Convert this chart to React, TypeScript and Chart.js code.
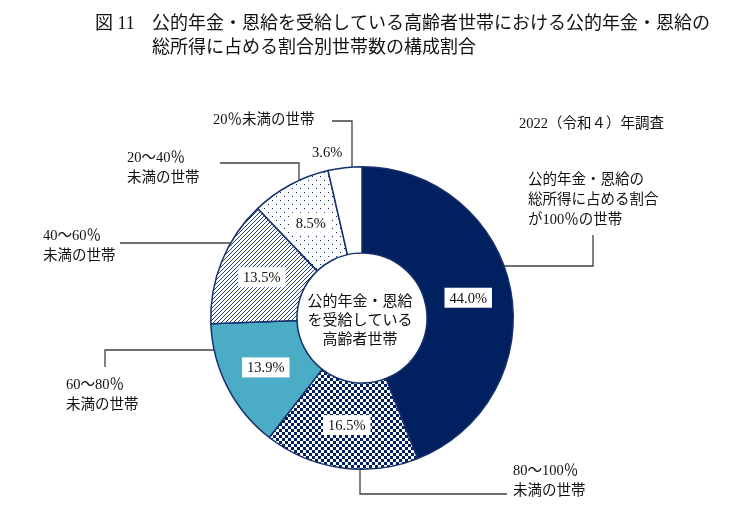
import React, { useRef, useEffect } from 'react';
import { Chart, registerables } from 'chart.js';

Chart.register(...registerables);

// 公的年金・恩給の総所得に占める割合別 世帯数の構成割合 (%), 2022
const categories = [
  '公的年金・恩給の総所得に占める割合が100％の世帯',
  '80～100％未満の世帯',
  '60～80％未満の世帯',
  '40～60％未満の世帯',
  '20～40％未満の世帯',
  '20％未満の世帯',
];
const shares = [44.0, 16.5, 13.9, 13.5, 8.5, 3.6];
const valueLabels = shares.map((v) => v.toFixed(1) + '%');

const titleLines = [
  '公的年金・恩給を受給している高齢者世帯における公的年金・恩給の',
  '総所得に占める割合別世帯数の構成割合',
];
const centerLines = ['公的年金・恩給', 'を受給している', '高齢者世帯'];
const surveyNote = '2022（令和４）年調査';

const NAVY = '#002060';
const EDGE = '#15306b';
const TEAL = '#4bacc6';
const FONT = '"Liberation Serif", "Noto Sans CJK JP", serif';

function makePattern(size: number, draw: (c: CanvasRenderingContext2D) => void) {
  const cv = document.createElement('canvas');
  cv.width = size;
  cv.height = size;
  const c = cv.getContext('2d')!;
  c.fillStyle = '#fff';
  c.fillRect(0, 0, size, size);
  c.fillStyle = NAVY;
  c.strokeStyle = NAVY;
  draw(c);
  return c.createPattern(cv, 'repeat')!;
}

// callout layout: text block, elbow points, and where the leader meets the ring
const callouts = [
  { text: ['20％未満の世帯'], x: 213, y: 120, pts: [[332, 121], [352, 121]], ring: { x: 352, dir: -1 } },
  { text: ['20～40％', '未満の世帯'], x: 127, y: 158, pts: [[220, 163], [299, 163]], ring: { x: 299, dir: -1 } },
  { text: ['40～60％', '未満の世帯'], x: 43, y: 236, pts: [[120, 243]], ring: { y: 243, dir: -1 } },
  { text: ['60～80％', '未満の世帯'], x: 66, y: 385, pts: [[105, 367], [105, 350]], ring: { y: 350, dir: -1 } },
  { text: ['80～100％', '未満の世帯'], x: 513, y: 471, pts: [[507, 494], [360, 494]], ring: { x: 360, dir: 1 } },
  { text: ['公的年金・恩給の', '総所得に占める割合', 'が100％の世帯'], x: 528, y: 180, pts: [[593, 235], [593, 266]], ring: { y: 266, dir: 1 } },
];

const annotationPlugin = {
  id: 'annotations',
  afterDraw(chart: any) {
    const ctx: CanvasRenderingContext2D = chart.ctx;
    const meta = chart.getDatasetMeta(0);
    const first = meta.data[0];
    const cx = first.x;
    const cy = first.y;
    const R = first.outerRadius;

    ctx.save();
    ctx.textBaseline = 'middle';
    ctx.fillStyle = '#111';

    // title
    ctx.font = `18px ${FONT}`;
    ctx.textAlign = 'left';
    ctx.fillText('図 11', 95, 24);
    ctx.fillText(titleLines[0], 152, 24);
    ctx.fillText(titleLines[1], 152, 48);

    // survey note
    ctx.font = `14.5px ${FONT}`;
    ctx.fillText(surveyNote, 519, 124);

    // value labels
    meta.data.forEach((arc: any, i: number) => {
      const p = arc.tooltipPosition(false);
      ctx.font = `14.5px ${FONT}`;
      const w = ctx.measureText(valueLabels[i]).width;
      let x = p.x;
      let y = p.y;
      if (i === shares.length - 1) {
        // small slice: label sits outside the ring
        const mid = (arc.startAngle + arc.endAngle) / 2;
        x = cx + (R + 16) * Math.cos(mid) - 16;
        y = cy + (R + 16) * Math.sin(mid);
      } else {
        ctx.fillStyle = '#fff';
        ctx.fillRect(x - w / 2 - 5, y - 10, w + 10, 20);
      }
      ctx.fillStyle = '#111';
      ctx.textAlign = 'center';
      ctx.fillText(valueLabels[i], x, y + 1);
    });

    // center text
    ctx.font = `15px ${FONT}`;
    ctx.textAlign = 'center';
    centerLines.forEach((t, k) => ctx.fillText(t, cx - 2, cy - 16 + k * 19));

    // callouts
    ctx.strokeStyle = '#404040';
    ctx.lineWidth = 1.3;
    ctx.textAlign = 'left';
    ctx.font = `14.5px ${FONT}`;
    callouts.forEach((c) => {
      c.text.forEach((t, k) => ctx.fillText(t, c.x, c.y + k * 20));
      let end: number[];
      if ('x' in c.ring) {
        const dx = (c.ring as any).x - cx;
        end = [(c.ring as any).x, cy + c.ring.dir * Math.sqrt(R * R - dx * dx)];
      } else {
        const dy = (c.ring as any).y - cy;
        end = [cx + c.ring.dir * Math.sqrt(R * R - dy * dy), (c.ring as any).y];
      }
      ctx.beginPath();
      ctx.moveTo(c.pts[0][0], c.pts[0][1]);
      c.pts.slice(1).forEach((p) => ctx.lineTo(p[0], p[1]));
      ctx.lineTo(end[0], end[1]);
      ctx.stroke();
    });
    ctx.restore();
  },
};

const App: React.FC = () => {
  const chartRef = useRef<HTMLCanvasElement | null>(null);
  const chartInstance = useRef<Chart | null>(null);

  useEffect(() => {
    document.body.style.margin = '0';
    if (!chartRef.current) return;
    if (chartInstance.current) chartInstance.current.destroy();

    const checker = makePattern(6, (c) => {
      c.fillRect(0, 0, 3, 3);
      c.fillRect(3, 3, 3, 3);
    });
    const hatch = makePattern(4, (c) => {
      c.lineWidth = 0.85;
      c.beginPath();
      c.moveTo(-1, 5);
      c.lineTo(5, -1);
      c.moveTo(-1, 1);
      c.lineTo(1, -1);
      c.moveTo(3, 5);
      c.lineTo(5, 3);
      c.stroke();
    });
    const dots = makePattern(8, (c) => {
      c.fillRect(0, 0, 1, 1);
      c.fillRect(4, 4, 1, 1);
    });

    const ctx = chartRef.current.getContext('2d');
    if (ctx) {
      chartInstance.current = new Chart(ctx, {
        type: 'doughnut',
        data: {
          labels: categories,
          datasets: [
            {
              data: shares,
              backgroundColor: [NAVY, checker, TEAL, hatch, dots, '#ffffff'] as any,
              borderColor: EDGE,
              borderWidth: 1.5,
            },
          ],
        },
        options: {
          responsive: false,
          animation: false,
          cutout: '43%',
          layout: { padding: { left: 210, right: 227, top: 166, bottom: 37 } },
          plugins: {
            legend: { display: false },
            tooltip: { enabled: false },
          },
        },
        plugins: [annotationPlugin],
      });
    }

    return () => {
      if (chartInstance.current) {
        chartInstance.current.destroy();
        chartInstance.current = null;
      }
    };
  }, []);

  return (
    <div style={{ width: 741, height: 507, background: '#fff' }}>
      <canvas ref={chartRef} width={741} height={507} />
    </div>
  );
};

export default App;
